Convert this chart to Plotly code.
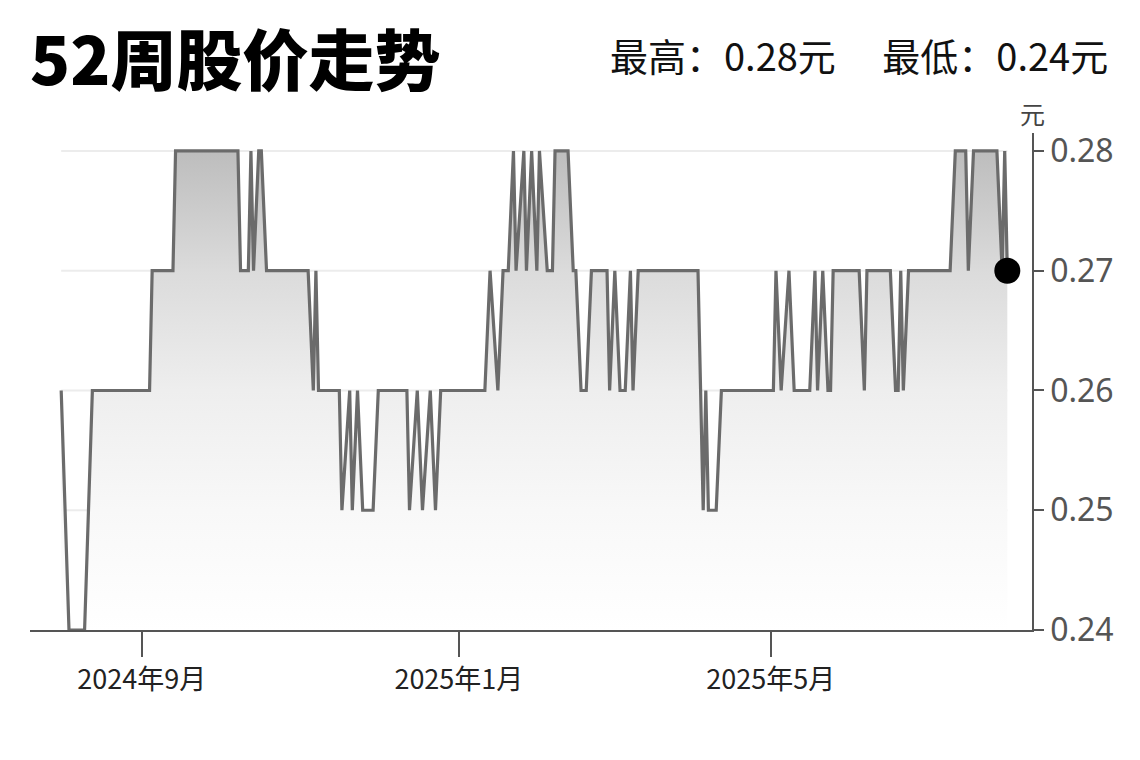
import plotly.graph_objects as go

# ---- data ----
dates = [
    "2024-08-01", "2024-08-04", "2024-08-10", "2024-08-13", "2024-09-04", "2024-09-05",
    "2024-09-13", "2024-09-14", "2024-10-08", "2024-10-09", "2024-10-12", "2024-10-13",
    "2024-10-14", "2024-10-16", "2024-10-17", "2024-10-19", "2024-11-04", "2024-11-06",
    "2024-11-07", "2024-11-08", "2024-11-16", "2024-11-17", "2024-11-20", "2024-11-21",
    "2024-11-23", "2024-11-25", "2024-11-29", "2024-12-01", "2024-12-12", "2024-12-13",
    "2024-12-16", "2024-12-18", "2024-12-21", "2024-12-23", "2024-12-25", "2025-01-11",
    "2025-01-13", "2025-01-16", "2025-01-18", "2025-01-20", "2025-01-22", "2025-01-23",
    "2025-01-26", "2025-01-27", "2025-01-29", "2025-01-31", "2025-02-01", "2025-02-04",
    "2025-02-06", "2025-02-07", "2025-02-12", "2025-02-14", "2025-02-15", "2025-02-17",
    "2025-02-19", "2025-02-21", "2025-02-27", "2025-02-28", "2025-03-02", "2025-03-04",
    "2025-03-06", "2025-03-08", "2025-03-09", "2025-03-11", "2025-04-03", "2025-04-05",
    "2025-04-06", "2025-04-07", "2025-04-10", "2025-04-12", "2025-05-02", "2025-05-03",
    "2025-05-05", "2025-05-08", "2025-05-10", "2025-05-16", "2025-05-18", "2025-05-19",
    "2025-05-21", "2025-05-23", "2025-05-24", "2025-05-25", "2025-06-04", "2025-06-06",
    "2025-06-07", "2025-06-16", "2025-06-18", "2025-06-19", "2025-06-20", "2025-06-21",
    "2025-06-23", "2025-07-09", "2025-07-11", "2025-07-15", "2025-07-16", "2025-07-18",
    "2025-07-27", "2025-07-29", "2025-07-30", "2025-07-31",
]
prices = [
    0.26, 0.24, 0.24, 0.26, 0.26, 0.27,
    0.27, 0.28, 0.28, 0.27, 0.27, 0.28,
    0.27, 0.28, 0.28, 0.27, 0.27, 0.26,
    0.27, 0.26, 0.26, 0.25, 0.26, 0.25,
    0.26, 0.25, 0.25, 0.26, 0.26, 0.25,
    0.26, 0.25, 0.26, 0.25, 0.26, 0.26,
    0.27, 0.26, 0.27, 0.27, 0.28, 0.27,
    0.28, 0.27, 0.28, 0.27, 0.28, 0.27,
    0.27, 0.28, 0.28, 0.27, 0.27, 0.26,
    0.26, 0.27, 0.27, 0.26, 0.27, 0.26,
    0.26, 0.27, 0.26, 0.27, 0.27, 0.25,
    0.26, 0.25, 0.25, 0.26, 0.26, 0.27,
    0.26, 0.27, 0.26, 0.26, 0.27, 0.26,
    0.27, 0.26, 0.26, 0.27, 0.27, 0.26,
    0.27, 0.27, 0.26, 0.26, 0.27, 0.26,
    0.27, 0.27, 0.28, 0.28, 0.27, 0.28,
    0.28, 0.27, 0.28, 0.27,
]
tick_dates = ["2024-09-01", "2025-01-01", "2025-05-01"]
tick_labels = ["2024年9月", "2025年1月", "2025年5月"]
y_ticks = [0.24, 0.25, 0.26, 0.27, 0.28]
title_text = "52周股价走势"
summary_text = "最高：0.28元　 最低：0.24元"
unit_text = "元"

x_range = ["2024-07-20", "2025-08-09T12:00"]
y_range = [0.24, 0.2815]

fig = go.Figure()

# gridlines spanning the data range only
for v in y_ticks[1:]:
    fig.add_shape(type="line", xref="x", yref="y", x0=dates[0], x1=dates[-1], y0=v, y1=v,
                  line=dict(color="#ececec", width=2), layer="below")

fig.add_trace(go.Scatter(
    x=dates, y=prices, mode="lines",
    line=dict(color="#6b6b6b", width=3.2),
    fill="tozeroy",
    fillgradient=dict(type="vertical", start=0.24, stop=0.28,
                      colorscale=[[0, "#ffffff"], [0.25, "#f8f8f8"], [0.5, "#eeeeee"],
                                  [0.75, "#dbdbdb"], [1, "#bdbdbd"]]),
    hoverinfo="skip", showlegend=False,
))
fig.add_trace(go.Scatter(
    x=[dates[-1]], y=[prices[-1]], mode="markers",
    marker=dict(color="#000000", size=26),
    showlegend=False, hoverinfo="skip",
))

fig.update_layout(
    width=1140, height=760,
    margin=dict(l=22, r=116, t=125, b=138),
    paper_bgcolor="white", plot_bgcolor="white",
    font=dict(family="Noto Sans CJK SC", color="#222"),
    xaxis=dict(
        type="date", range=x_range,
        showgrid=False, zeroline=False,
        showline=True, linecolor="#555", linewidth=1.5,
        ticks="outside", ticklen=25, tickwidth=1.5, tickcolor="#555",
        tickvals=tick_dates, ticktext=tick_labels,
        tickfont=dict(family="Noto Sans CJK SC", size=27, color="#222"),
    ),
    yaxis=dict(
        side="right", range=y_range,
        showgrid=False, zeroline=False,
        showline=True, linecolor="#555", linewidth=1.5,
        ticks="outside", ticklen=10, tickwidth=1.5, tickcolor="#555",
        tickvals=y_ticks, tickformat=".2f",
        tickfont=dict(family="Noto Sans", size=32, color="#555"),
    ),
    annotations=[
        dict(text=title_text, xref="paper", yref="paper", x=-0.002, y=1.155,
             xanchor="left", yanchor="middle", showarrow=False,
             font=dict(family="Noto Sans CJK SC", size=66, color="#000", weight=900)),
        dict(text=summary_text, xref="paper", yref="paper", x=1.078, y=1.158,
             xanchor="right", yanchor="middle", showarrow=False,
             font=dict(family="Noto Sans CJK SC", size=38, color="#111")),
        dict(text=unit_text, xref="paper", yref="paper", x=1.0, y=1.04,
             xanchor="center", yanchor="middle", showarrow=False,
             font=dict(family="Noto Sans CJK SC", size=25, color="#444")),
    ],
)

fig.write_html("out.html")
